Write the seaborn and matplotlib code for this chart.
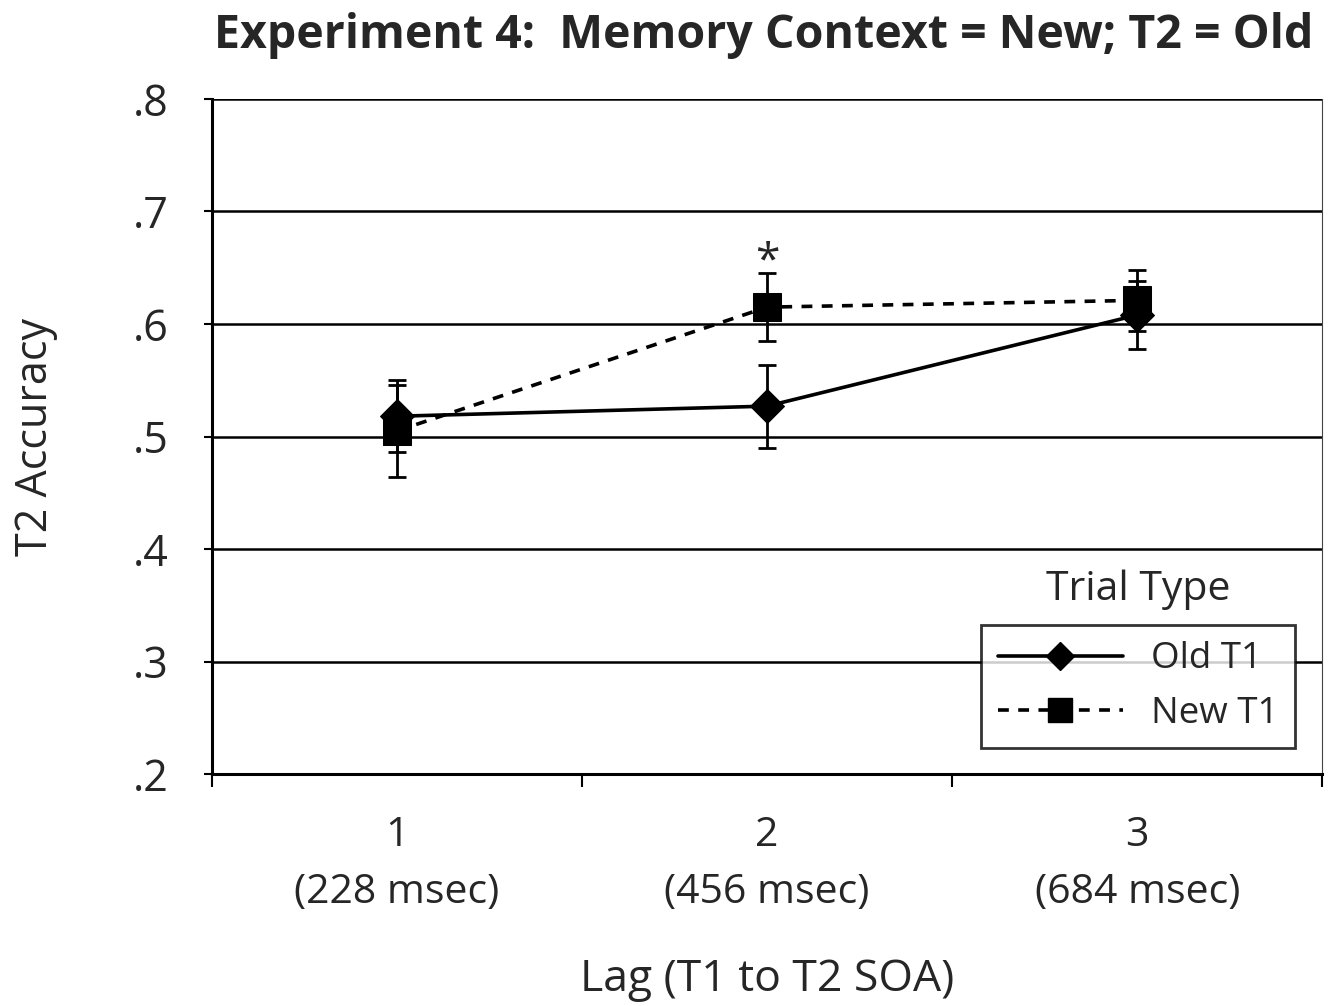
import numpy as np
import pandas as pd
import seaborn as sns
import matplotlib.pyplot as plt
from matplotlib.lines import Line2D

# values
lags = [1, 2, 3]
lag_labels = ['1\n(228 msec)', '2\n(456 msec)', '3\n(684 msec)']
old_t1 = [0.518, 0.527, 0.608]
old_err = [0.032, 0.037, 0.030]
new_t1 = [0.505, 0.615, 0.621]
new_err = [0.041, 0.030, 0.027]
yticks = [0.2, 0.3, 0.4, 0.5, 0.6, 0.7, 0.8]
ytick_labels = ['.2', '.3', '.4', '.5', '.6', '.7', '.8']

df = pd.DataFrame({
    'lag': lags * 2,
    'acc': old_t1 + new_t1,
    'err': old_err + new_err,
    'type': ['Old T1'] * 3 + ['New T1'] * 3,
})

sns.set_style('white')
plt.rcParams['font.family'] = ['Open Sans', 'DejaVu Sans']

fig = plt.figure(figsize=(13.33, 10.06), dpi=100)
ax = fig.add_axes([0.159, 0.2306, 0.833, 0.671])

# error bars first so markers sit on top
for name, sub in df.groupby('type'):
    ax.errorbar(sub['lag'], sub['acc'], yerr=sub['err'], fmt='none',
                ecolor='black', elinewidth=2, capsize=6.5, capthick=2, zorder=3)

sns.lineplot(data=df, x='lag', y='acc', style='type', hue='type',
             palette={'Old T1': 'black', 'New T1': 'black'},
             style_order=['Old T1', 'New T1'], hue_order=['Old T1', 'New T1'],
             markers={'Old T1': 'D', 'New T1': 's'},
             dashes={'Old T1': '', 'New T1': (3, 2.6)},
             markersize=20, linewidth=2.6, markeredgecolor='black',
             ax=ax, zorder=4, legend=False)
for l in ax.get_lines():
    if l.get_marker() == 'D':
        l.set_markersize(17)
    elif l.get_marker() == 's':
        l.set_markersize(20)

ax.set_xlim(0.5, 3.5)
ax.set_ylim(0.2, 0.8)
ax.set_yticks(yticks)
ax.set_yticklabels(ytick_labels)
ax.set_xticks(lags)
ax.set_xticklabels(lag_labels, linespacing=1.55)
ax.set_xticks([0.5, 1.5, 2.5, 3.5], minor=True)
ax.tick_params(axis='x', which='major', length=0, pad=30, labelsize=29.5)
ax.tick_params(axis='x', which='minor', bottom=True, length=9, width=1.5,
               color='black', direction='out')
ax.tick_params(axis='y', which='major', left=True, length=6, width=1.5, color='black',
               direction='out', labelsize=31, pad=51)
for t in ax.get_yticklabels():
    t.set_horizontalalignment('left')

for y in yticks[1:]:
    ax.axhline(y, color='black', lw=1.8, zorder=1)

for s in ['left', 'bottom']:
    ax.spines[s].set_color('black')
    ax.spines[s].set_linewidth(2.2)
ax.spines['top'].set_visible(False)
ax.spines['right'].set_color('#444444')
ax.spines['right'].set_linewidth(0.8)

ax.set_xlabel('Lag (T1 to T2 SOA)', fontsize=32, labelpad=32)
ax.set_ylabel('T2 Accuracy', fontsize=31, labelpad=54)
ax.set_title('Experiment 4:  Memory Context = New; T2 = Old', fontsize=33.5,
             fontweight='bold', x=0.497, pad=37)

ax.text(2, 0.655, '*', ha='center', va='center', fontsize=32)

# legend
handles = [Line2D([], [], color='black', lw=2.6, marker='D', markersize=14),
           Line2D([], [], color='black', lw=2.6, ls=(0, (3, 2.6)), marker='s', markersize=17)]
leg = ax.legend(handles, ['Old T1', 'New T1'], loc='lower right',
                bbox_to_anchor=(0.975, 0.038), borderaxespad=0, fontsize=26.5,
                handlelength=3.4, frameon=True, fancybox=False, edgecolor='black',
                borderpad=0.45, labelspacing=0.5, handletextpad=0.75)
leg.get_frame().set_linewidth(2)
ax.text(0.834, 0.2726, 'Trial Type', transform=ax.transAxes, ha='center',
        va='center', fontsize=29.5)

fig.savefig('out.png', dpi=100)
